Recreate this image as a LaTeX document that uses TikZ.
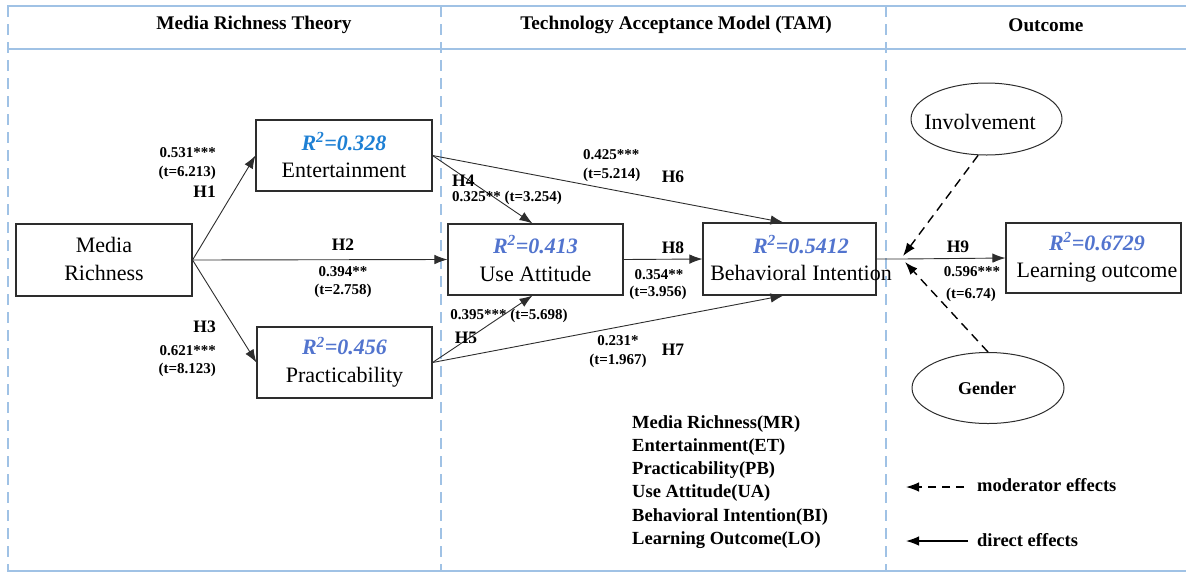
\documentclass[tikz,border=0pt]{standalone}
\usepackage{fontspec}
\setmainfont{Liberation Serif}
\usetikzlibrary{arrows.meta,shapes.geometric}
\definecolor{framec}{RGB}{160,194,229}
\definecolor{boxc}{RGB}{45,45,45}
\definecolor{rblue}{RGB}{30,128,212}
\definecolor{rblueb}{RGB}{82,116,206}
\newcommand\fs[2]{\fontsize{#1}{#2}\selectfont}
\newcommand\rsq[2]{{\color{#1}\bfseries\itshape R\textsuperscript{2}=#2}}
\begin{document}
\begin{tikzpicture}[x=1pt,y=-1pt,
  box/.style={draw=boxc, line width=1.1pt, inner sep=0pt},
  btxt/.style={font=\fs{22}{27.5}, align=center, inner sep=0pt},
  oval/.style={ellipse, draw=boxc, line width=1pt, inner sep=0pt},
  arr/.style={draw=boxc, line width=0.9pt, -{Latex[length=13pt,width=9.5pt]}},
  modarr/.style={draw=black, line width=1.4pt, dash pattern=on 9pt off 6pt,
    -{Latex[length=13pt,width=9.5pt]}},
  lab/.style={font=\bfseries\fs{15}{18}, inner sep=0pt},
  hyp/.style={font=\bfseries\fs{17.5}{20}, inner sep=0pt},
  head/.style={font=\bfseries\fs{19.3}{22}, inner sep=0pt},
  legend/.style={font=\bfseries\fs{18.5}{22}, inner sep=0pt, anchor=west},
  rule/.style={draw=framec, line width=1.8pt},
  divider/.style={draw=framec, line width=1.2pt, dash pattern=on 11pt off 7pt}]
\useasboundingbox (0,0) rectangle (1186,574);

% frame and column dividers
\draw[rule] (7,6) -- (1186,6);
\draw[rule] (7,49) -- (1186,49);
\draw[rule] (7,571) -- (1186,571);
\draw[divider] (8,6) -- (8,571);
\draw[divider] (441,6) -- (441,571);
\draw[divider] (886,6) -- (886,571);

% column headings
\node[head] (hMRT) at (254,25) {Media Richness Theory};
\node[head] (hTAM) at (676,25) {Technology Acceptance Model (TAM)};
\node[head] (hOUT) at (1046,25) {Outcome};

% construct boxes
\node[box, minimum width=176, minimum height=72] (mr) at (104,260) {};
\node[box, minimum width=176, minimum height=71] (et) at (344,155.5) {};
\node[box, minimum width=175, minimum height=71] (pb) at (344.5,362.5) {};
\node[box, minimum width=175, minimum height=71] (ua) at (535.5,259.5) {};
\node[box, minimum width=173, minimum height=72] (bi) at (789.5,259) {};
\node[box, minimum width=175, minimum height=70] (lo) at (1093.5,258) {};

\node[btxt] (mrT) at (104,259) {Media\\Richness};
\node[btxt] (etT) at (344,155) {\rsq{rblue}{0.328}\\Entertainment};
\node[btxt] (pbT) at (344.5,362) {\rsq{rblueb}{0.456}\\Practicability};
\node[btxt] (uaT) at (535.5,258.5) {\rsq{rblueb}{0.413}\\Use Attitude};
\node[btxt] (biT) at (801,258) {\rsq{rblueb}{0.5412}\\Behavioral Intention};
\node[btxt] (loT) at (1097,257.5) {\rsq{rblueb}{0.6729}\\Learning outcome};

% moderators
\node[oval, minimum width=151, minimum height=72] (inv) at (986.5,119) {};
\node[font=\fs{22}{26}, inner sep=0pt] (invT) at (980,122) {Involvement};
\node[oval, minimum width=152, minimum height=71] (gen) at (988,388) {};
\node[font=\bfseries\fs{18}{22}, inner sep=0pt] (genT) at (987,388) {Gender};

% direct paths
\draw[arr] (mr.east) -- (et.west);
\draw[arr] (mr.east) -- (ua.west);
\draw[arr] (mr.east) -- (pb.west);
\draw[arr] (et.east) -- ([xshift=-3pt]ua.north);
\draw[arr] (pb.east) -- ([xshift=-3pt]ua.south);
\draw[arr] (et.east) -- ([xshift=-6pt]bi.north);
\draw[arr] (pb.east) -- ([xshift=-6pt]bi.south);
\draw[arr] (ua.east) -- (bi.west);
\coordinate (jn) at (902,259);
\draw[arr] (bi.east) -- (jn) -- (lo.west);

% moderating paths
\coordinate (jnA) at (903,256);
\coordinate (jnB) at (905,262);
\draw[modarr] (inv.257) -- (jnA);
\draw[modarr] (gen.north) -- (jnB);

% path coefficients
\node[lab, anchor=east] (c1a) at (216,153) {0.531***};
\node[lab, anchor=east] (c1b) at (216,173) {(t=6.213)};
\node[hyp, anchor=east] (h1) at (216,192) {H1};

\node[hyp] (h2) at (343,245) {H2};
\node[lab] (c2a) at (343,272) {0.394**};
\node[lab] (c2b) at (343,291) {(t=2.758)};

\node[hyp, anchor=east] (h3) at (216,327) {H3};
\node[lab, anchor=east] (c3a) at (216,351) {0.621***};
\node[lab, anchor=east] (c3b) at (216,370) {(t=8.123)};

\node[hyp, anchor=west] (h4) at (452,181) {H4};
\node[lab, anchor=west] (c4) at (452,198) {0.325** (t=3.254)};

\node[lab] (c5) at (509,316) {0.395*** (t=5.698)};
\node[hyp] (h5) at (466,338) {H5};

\node[lab, anchor=west] (c6a) at (583,155) {0.425***};
\node[lab, anchor=west] (c6b) at (583,175) {(t=5.214)};
\node[hyp] (h6) at (673,177) {H6};

\node[lab] (c7a) at (618,341) {0.231*};
\node[lab] (c7b) at (618,361) {(t=1.967)};
\node[hyp] (h7) at (673,350) {H7};

\node[hyp] (h8) at (673,248) {H8};
\node[lab] (c8a) at (659,275) {0.354**};
\node[lab] (c8b) at (658,293) {(t=3.956)};

\node[hyp] (h9) at (958,247) {H9};
\node[lab] (c9a) at (972,272) {0.596***};
\node[lab] (c9b) at (971,295) {(t=6.74)};

% abbreviations
\node[legend] (l1) at (632,424) {Media Richness(MR)};
\node[legend] (l2) at (632,447) {Entertainment(ET)};
\node[legend] (l3) at (632,470) {Practicability(PB)};
\node[legend] (l4) at (632,493) {Use Attitude(UA)};
\node[legend] (l5) at (632,517) {Behavioral Intention(BI)};
\node[legend] (l6) at (632,540) {Learning Outcome(LO)};

% key to line styles
\coordinate (modS) at (964,487);
\coordinate (modE) at (906,487);
\draw[modarr, line width=1.2pt, dash pattern=on 8pt off 6pt] (modS) -- (modE);
\node[legend] (kMod) at (977,485) {moderator effects};
\coordinate (dirS) at (968,541);
\coordinate (dirE) at (906,541);
\draw[arr, draw=black, line width=1.2pt] (dirS) -- (dirE);
\node[legend] (kDir) at (977,540) {direct effects};
\end{tikzpicture}
\end{document}
